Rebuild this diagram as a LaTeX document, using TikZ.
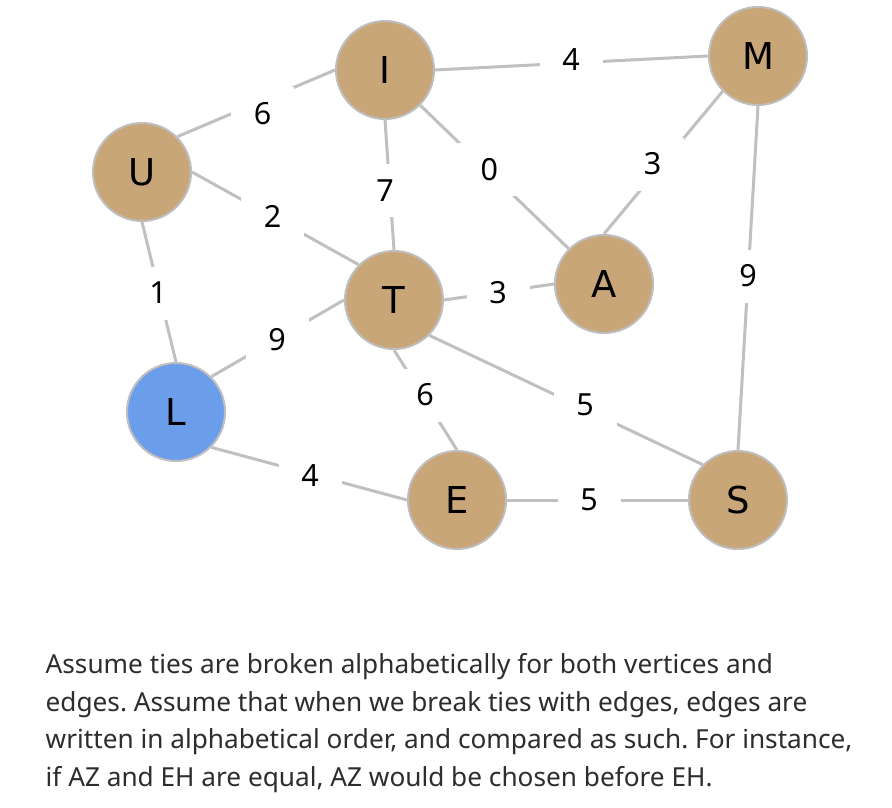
\documentclass[tikz,border=0pt]{standalone}
\usepackage{fontspec}
\setmainfont{Noto Sans}
\newfontfamily\nodefont{DejaVu Sans}
\newfontfamily\numfont{Noto Sans}
\definecolor{tan}{RGB}{201,166,120}
\definecolor{lblue}{RGB}{107,158,234}
\definecolor{rim}{RGB}{190,190,190}
\definecolor{edgegray}{RGB}{192,192,192}
\definecolor{bodytext}{RGB}{45,45,45}
\frenchspacing
\begin{document}
\begin{tikzpicture}[x=1pt,y=-1pt,
  vertex/.style={circle,draw=rim,line width=2pt,fill=tan,minimum size=98pt,inner sep=0pt,
    font=\nodefont\fontsize{37}{40}\selectfont},
  edge/.style={draw=edgegray,line width=3pt},
  wt/.style={fill=white,inner sep=0pt,minimum width=63pt,minimum height=53pt,
    font=\numfont\fontsize{30.5}{34}\selectfont},
  body/.style={anchor=base west,inner sep=0pt,text=bodytext,font=\fontsize{26.2}{37.5}\selectfont}]
\useasboundingbox (0,0) rectangle (892,808);
\fill[white] (0,0) rectangle (892,808);
% vertices
\node[vertex] (I) at (385,70) {I};
\node[vertex] (M) at (758,56) {M};
\node[vertex] (U) at (142,172) {U};
\node[vertex] (A) at (604,284) {A};
\node[vertex] (T) at (394,300) {T};
\node[vertex,fill=lblue] (L) at (176,412) {L};
\node[vertex] (E) at (457,500) {E};
\node[vertex] (S) at (738,500) {S};
% edges
\draw[edge] (U.north east) -- (I.west);
\draw[edge] (I.east) -- (M.west);
\draw[edge] (I.south east) -- (A.north west);
\draw[edge] (M.south west) -- (A.north);
\draw[edge] (I.south) -- (T.north);
\draw[edge] (U.east) -- (T.north west);
\draw[edge] (U.south) -- (L.north);
\draw[edge] (T.east) -- (A.west);
\draw[edge] (M.south) -- (S.north);
\draw[edge] (L.north east) -- (T.west);
\draw[edge] (T.south) -- (E.north);
\draw[edge] (T.south east) -- (S.north west);
\draw[edge] (L.south east) -- (E.west);
\draw[edge] (E.east) -- (S.west);
% weights
\node[wt] (wUI) at (262.7,113.3) {6};
\node[wt] (wIM) at (571,60) {4};
\node[wt] (wIA) at (489.3,169.3) {0};
\node[wt] (wMA) at (652.7,164) {3};
\node[wt] (wIT) at (385,190.7) {7};
\node[wt] (wUT) at (272.7,216) {2};
\node[wt] (wUL) at (158,293) {1};
\node[wt] (wTA) at (498,292.7) {3};
\node[wt] (wMS) at (748,276) {9};
\node[wt] (wLT) at (277,340) {9};
\node[wt] (wTE) at (425,395) {6};
\node[wt] (wTS) at (585,405) {5};
\node[wt] (wLE) at (310,476) {4};
\node[wt] (wES) at (589,500) {5};
% caption
\node[body] (t1) at (45.5,673.5) {Assume ties are broken alphabetically for both vertices and};
\node[body] (t2) at (45.5,711) {edges. Assume that when we break ties with edges, edges are};
\node[body] (t3) at (45.5,748.5) {written in alphabetical order, and compared as such. For instance,};
\node[body] (t4) at (45.5,786) {if AZ and EH are equal, AZ would be chosen before EH.};
\end{tikzpicture}
\end{document}
